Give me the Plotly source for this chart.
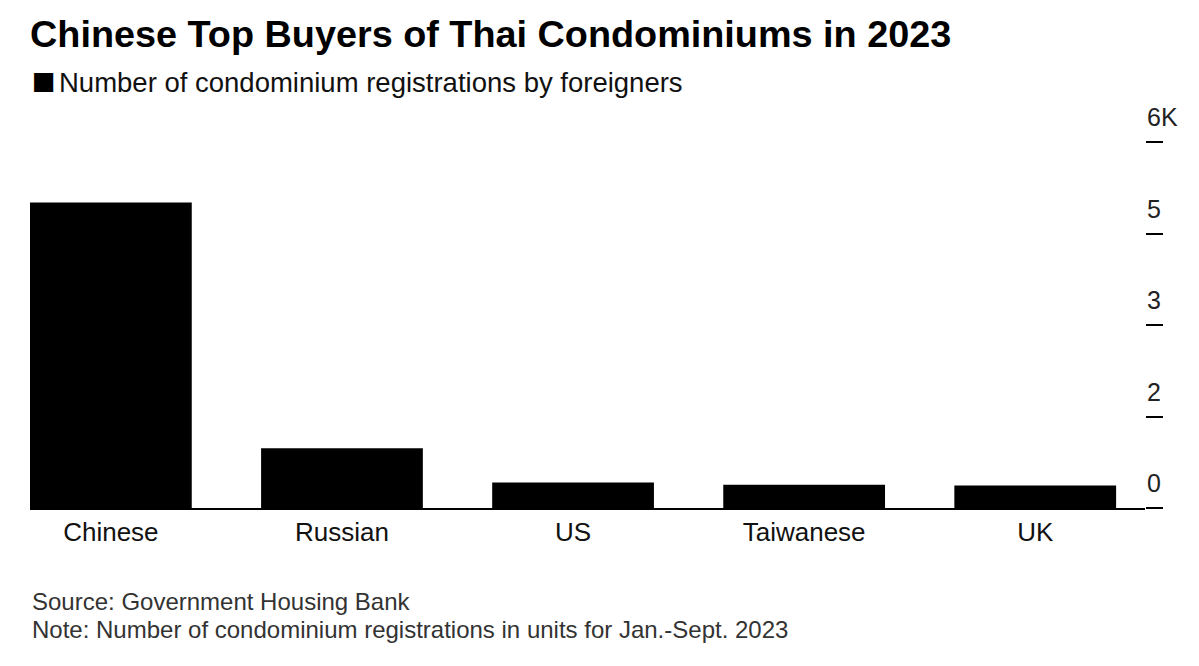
import plotly.graph_objects as go

# registrations by foreigners, Jan-Sept 2023 (units)
countries = ["Chinese", "Russian", "US", "Taiwanese", "UK"]
registrations = [5010, 980, 420, 380, 370]

y_tickvals = [0, 1500, 3000, 4500, 6000]
y_ticktext = ["0", "2", "3", "5", "6K"]

FONT = "Liberation Sans, Arial, sans-serif"

# page has an 8px body margin, so the figure is a bit smaller than the window
W, H = 1183, 650
L, T, PW, PH = 22, 134, 1115, 366

fig = go.Figure()
fig.add_trace(go.Bar(
    x=countries, y=registrations,
    marker=dict(color="#000000", line=dict(width=0)),
    width=0.7,
    name="Number of condominium registrations by foreigners",
    showlegend=False,
))

fig.update_layout(
    width=W, height=H,
    margin=dict(l=L, r=W - L - PW, t=T, b=H - T - PH),
    paper_bgcolor="white", plot_bgcolor="white",
    font=dict(family=FONT, color="#222222"),
    title=dict(text="<b>Chinese Top Buyers of Thai Condominiums in 2023</b>",
               x=L / W, xanchor="left", y=1 - 26 / H, yanchor="middle",
               font=dict(size=37.8, color="#000000")),
)

fig.update_xaxes(
    range=[-0.35, 4.475],
    showgrid=False, showline=True, linecolor="#000000", linewidth=1.5,
    ticks="", tickfont=dict(size=26, color="#111111"),
)
# right axis: only the short tick dashes, labels go above them (annotations below)
fig.update_yaxes(
    range=[0, 6000], side="right",
    tickvals=y_tickvals,
    ticks="outside", ticklen=17, tickwidth=1.5, tickcolor="#000000",
    showticklabels=False,
    showgrid=False, zeroline=False, showline=False,
)
for v, t in zip(y_tickvals, y_ticktext):
    fig.add_annotation(text=t, xref="paper", yref="y", x=1, y=v,
                       xanchor="left", yanchor="bottom", xshift=0, yshift=9,
                       showarrow=False, font=dict(size=25, color="#222222"))

# legend-like subtitle
fig.add_annotation(text="■", xref="paper", yref="paper",
                   x=-0.5 / PW, y=(PH + T - 73) / PH,
                   xanchor="left", yanchor="middle", showarrow=False,
                   font=dict(size=25, color="#000000", family="DejaVu Sans"))
fig.add_annotation(text="Number of condominium registrations by foreigners",
                   xref="paper", yref="paper", x=27 / PW, y=(PH + T - 75) / PH,
                   xanchor="left", yanchor="middle", showarrow=False,
                   font=dict(size=27.5, color="#111111"))

fig.add_annotation(text="Source: Government Housing Bank",
                   xref="paper", yref="paper", x=0, y=(PH + T - 593) / PH,
                   xanchor="left", yanchor="middle", showarrow=False,
                   font=dict(size=24, color="#333333"))
fig.add_annotation(text="Note: Number of condominium registrations in units for Jan.-Sept. 2023",
                   xref="paper", yref="paper", x=0, y=(PH + T - 621) / PH,
                   xanchor="left", yanchor="middle", showarrow=False,
                   font=dict(size=24, color="#333333"))

fig.write_html("out.html")
